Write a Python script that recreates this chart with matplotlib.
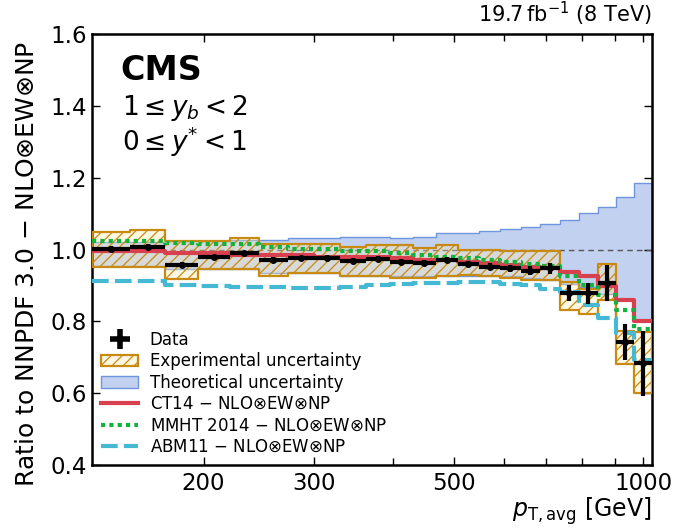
import numpy as np
import matplotlib
matplotlib.use("Agg")
import matplotlib.pyplot as plt
from matplotlib.patches import Patch
from matplotlib.lines import Line2D

# pT,avg bin edges [GeV]
edges = [133, 153, 174, 196, 220, 245, 272, 300, 330, 362, 395, 430, 468,
         507, 548, 592, 638, 686, 737, 790, 846, 905, 967, 1032]

# Data / NNPDF 3.0 prediction
data = [1.001, 1.006, 0.958, 0.978, 0.989, 0.970, 0.975, 0.976, 0.967,
        0.974, 0.966, 0.963, 0.971, 0.960, 0.952, 0.948, 0.941, 0.948,
        0.880, 0.878, 0.906, 0.743, 0.683]
stat_err = [0.008, 0.008, 0.008, 0.008, 0.008, 0.008, 0.008, 0.008, 0.008,
            0.008, 0.008, 0.008, 0.008, 0.008, 0.010, 0.010, 0.012, 0.015,
            0.022, 0.030, 0.050, 0.050, 0.090]

# Experimental uncertainty band (lower / upper edge)
exp_lo = [0.951, 0.951, 0.919, 0.945, 0.945, 0.926, 0.934, 0.934, 0.926,
          0.926, 0.922, 0.922, 0.925, 0.930, 0.925, 0.920, 0.915, 0.915,
          0.831, 0.820, 0.860, 0.680, 0.600]
exp_hi = [1.049, 1.054, 1.023, 1.023, 1.031, 1.015, 1.015, 1.015, 1.006,
          1.012, 1.012, 1.003, 1.012, 1.000, 1.000, 0.996, 0.996, 0.996,
          0.910, 0.890, 0.960, 0.772, 0.770]

# Theoretical (scale) uncertainty band of the NNPDF 3.0 prediction
theo_lo = [0.955, 0.955, 0.945, 0.945, 0.945, 0.935, 0.935, 0.935, 0.925,
           0.925, 0.925, 0.925, 0.925, 0.925, 0.925, 0.925, 0.920, 0.915,
           0.905, 0.895, 0.875, 0.860, 0.800]
theo_hi = [1.022, 1.022, 1.023, 1.023, 1.026, 1.026, 1.031, 1.031, 1.035,
           1.035, 1.033, 1.036, 1.045, 1.047, 1.051, 1.056, 1.063, 1.071,
           1.082, 1.101, 1.117, 1.145, 1.186]

# Alternative PDF sets / NNPDF 3.0
ct14 = [0.996, 0.996, 0.989, 0.989, 0.985, 0.985, 0.985, 0.978, 0.978,
        0.978, 0.975, 0.972, 0.970, 0.966, 0.962, 0.958, 0.952, 0.948,
        0.938, 0.926, 0.898, 0.859, 0.801]
mmht = [1.024, 1.024, 1.019, 1.015, 1.015, 1.008, 1.001, 1.001, 0.996,
        0.996, 0.989, 0.985, 0.980, 0.975, 0.970, 0.965, 0.960, 0.954,
        0.926, 0.901, 0.873, 0.831, 0.778]
abm11 = [0.913, 0.913, 0.900, 0.897, 0.895, 0.895, 0.894, 0.894, 0.895,
         0.900, 0.904, 0.906, 0.907, 0.909, 0.909, 0.905, 0.901, 0.890,
         0.882, 0.845, 0.808, 0.767, 0.692]

edges_a = np.array(edges, dtype=float)
centers = np.sqrt(edges_a[:-1] * edges_a[1:])
xerr = [centers - edges_a[:-1], edges_a[1:] - centers]


def stepvals(v):
    return np.append(v, v[-1])


fig = plt.figure(figsize=(6.75, 5.31), dpi=100)
ax = fig.add_axes([92 / 675, 1 - 465 / 531, 560 / 675, 431 / 531])

c_theo_face = "#c3d1f1"
c_theo_edge = "#6f95dc"
c_exp_edge = "#c88a10"
c_exp_face = (1.0, 0.92, 0.68, 0.35)
c_ct14 = "#d9404f"
c_mmht = "#12b33c"
c_abm = "#45b8d4"

ax.fill_between(edges_a, stepvals(theo_lo), stepvals(theo_hi), step="post",
                facecolor=c_theo_face, edgecolor=c_theo_edge, linewidth=1.0,
                zorder=1)
ax.axhline(1.0, color="#555555", linestyle=(0, (4, 3)), linewidth=1.0,
           zorder=2)

plt.rcParams["hatch.color"] = c_exp_edge
plt.rcParams["hatch.linewidth"] = 0.9
ax.fill_between(edges_a, stepvals(exp_lo), stepvals(exp_hi), step="post",
                facecolor=c_exp_face, edgecolor=c_exp_edge,
                hatch="///", linewidth=1.6, zorder=3)

ax.step(edges_a, stepvals(abm11), where="post", color=c_abm, linewidth=3,
        linestyle=(0, (4, 1.5)), zorder=4)
ax.step(edges_a, stepvals(ct14), where="post", color=c_ct14, linewidth=3,
        zorder=5)
ax.step(edges_a, stepvals(mmht), where="post", color=c_mmht, linewidth=3,
        linestyle=(0, (1, 1)), zorder=6)

ax.errorbar(centers, data, xerr=xerr, yerr=stat_err, fmt="o", color="black",
            markersize=4, elinewidth=3, capsize=0, zorder=7)

ax.set_xscale("log")
ax.set_xlim(133, 1032)
ax.set_ylim(0.4, 1.6)
ax.set_xticks([200, 300, 500, 1000])
ax.set_xticklabels(["200", "300", "500", "1000"])
ax.set_xticks([400, 600, 700, 800, 900], minor=True)
ax.xaxis.set_minor_formatter(matplotlib.ticker.NullFormatter())
yt = np.arange(0.4, 1.61, 0.2)
ax.set_yticks(yt)
ax.set_yticklabels([f"{v:.1f}" for v in yt])
ax.tick_params(axis="both", which="both", direction="in", top=True,
               right=True, labelsize=16.5, width=1.0)
ax.tick_params(which="major", length=6)
ax.tick_params(which="minor", length=5)
ax.tick_params(axis="x", pad=5)
for s in ax.spines.values():
    s.set_linewidth(1.8)

ax.set_ylabel("Ratio to NNPDF 3.0 $-$ NLO⊗EW⊗NP", fontsize=18, labelpad=2)
ax.yaxis.set_label_coords(-0.094, 0.466)
ax.set_xlabel(r"$p_{\mathrm{T,avg}}$ [GeV]", fontsize=17, loc="right",
              labelpad=0)

ax.text(0.05, 0.953, "CMS", transform=ax.transAxes, fontsize=24,
        fontweight="bold", va="top", ha="left")
ax.text(0.053, 0.862, r"$1 \leq y_b < 2$", transform=ax.transAxes,
        fontsize=19, va="top", ha="left")
ax.text(0.053, 0.79, r"$0 \leq y^{*} < 1$", transform=ax.transAxes,
        fontsize=19, va="top", ha="left")
ax.text(1.0, 1.015, r"19.7$\,$fb$^{-1}$ (8 TeV)", transform=ax.transAxes,
        fontsize=15, va="bottom", ha="right")

handles = [
    Line2D([], [], color="black", marker="+", markersize=14,
           markeredgewidth=4, linestyle="none"),
    Patch(facecolor=c_exp_face, edgecolor=c_exp_edge,
          hatch="///", linewidth=1.6),
    Patch(facecolor=c_theo_face, edgecolor=c_theo_edge, linewidth=1.0),
    Line2D([], [], color=c_ct14, linewidth=3),
    Line2D([], [], color=c_mmht, linewidth=3, linestyle=(0, (1, 1))),
    Line2D([], [], color=c_abm, linewidth=3, linestyle=(0, (4, 1.5))),
]
labels = ["Data", "Experimental uncertainty", "Theoretical uncertainty",
          "CT14 $-$ NLO⊗EW⊗NP", "MMHT 2014 $-$ NLO⊗EW⊗NP",
          "ABM11 $-$ NLO⊗EW⊗NP"]
ax.legend(handles, labels, loc="lower left", frameon=False, fontsize=12,
          handlelength=2.2, handletextpad=0.7, labelspacing=0.2,
          borderaxespad=0.0, bbox_to_anchor=(0.005, 0.006))

fig.savefig("out.png", dpi=100)
